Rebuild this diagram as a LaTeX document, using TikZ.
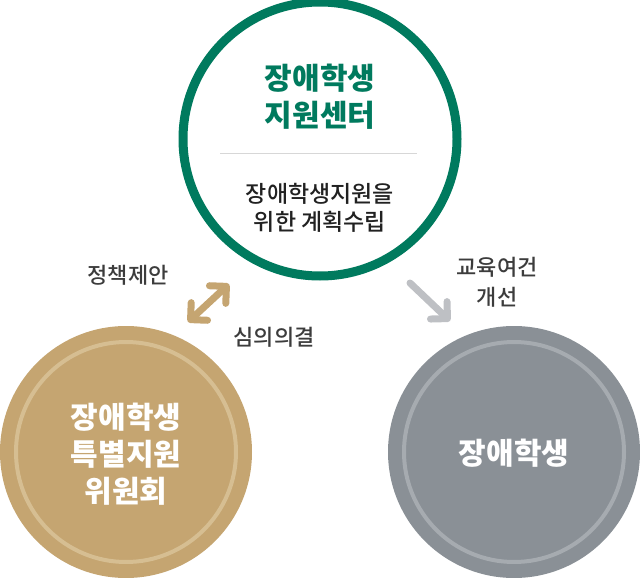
\documentclass[tikz,border=0pt]{standalone}
\usepackage{fontspec}
\setmainfont{Noto Sans CJK KR}
\newfontfamily\krmed{Noto Sans CJK KR Medium}
\usetikzlibrary{arrows.meta, positioning}
\definecolor{cgreen}{RGB}{0,122,94}
\definecolor{cgold}{RGB}{197,165,113}
\definecolor{cgoldring}{RGB}{214,190,146}
\definecolor{cgray}{RGB}{138,144,150}
\definecolor{cgrayring}{RGB}{166,171,176}
\definecolor{csep}{RGB}{215,215,215}
\definecolor{carrow}{RGB}{190,192,196}
\definecolor{cnote}{RGB}{60,60,60}

\begin{document}
\begin{tikzpicture}[x=1pt, y=-1pt,
    ball/.style={circle, inner sep=0pt, minimum size=252pt},
    halo/.style={line width=4pt},
    bigtext/.style={font=\bfseries\fontsize{30}{37}\selectfont, align=center},
    note/.style={text=cnote, font=\krmed\fontsize{22}{30}\selectfont, align=center},
    flow/.style={line width=7pt, line cap=round}]
    \useasboundingbox (0,0) rectangle (640,578);

    \node[ball, minimum size=274pt, draw=cgreen, line width=9pt, fill=white] (center) at (320,139) {};
    \node[ball, fill=cgold] (council) at (126,452) {};
    \node[ball, fill=cgray] (student) at (514,452) {};
    \draw[halo, cgoldring] (council) circle (110pt);
    \draw[halo, cgrayring] (student) circle (110pt);

    \node[bigtext, text=cgreen] (title) at (320,97) {장애학생\\지원센터};
    \coordinate (sepl) at (220,153);
    \coordinate (sepr) at (417,153);
    \draw[csep, line width=1pt] (sepl) -- (sepr);
    \node[bigtext, font=\krmed\fontsize{23}{28}\selectfont, text=black!87] (plan) at (320,208) {장애학생지원을\\위한 계획수립};

    \node[bigtext, text=white] (ctext) at (126,454) {장애학생\\특별지원\\위원회};
    \node[bigtext, text=white] (stext) at (514,453) {장애학생};

    \node[note] (propose) at (128,275) {정책제안};
    \node[note] (decide) at (274,337) {심의의결};
    \node[note] (improve) at (497,282) {교육여건\\개선};

    \coordinate (g1) at (188,322);
    \coordinate (g2) at (229,284);
    \coordinate (s1) at (410,283);
    \coordinate (s2) at (450,321);
    \draw[flow, cgold, {Straight Barb[length=12pt, width=24pt, round]}-{Straight Barb[length=12pt, width=24pt, round]}] (g1) -- (g2);
    \draw[flow, carrow, -{Straight Barb[length=12pt, width=24pt, round]}] (s1) -- (s2);
\end{tikzpicture}
\end{document}
